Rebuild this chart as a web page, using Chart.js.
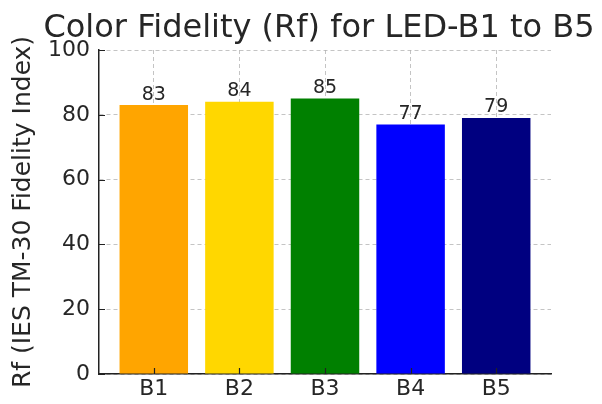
<!DOCTYPE html>
<html>
<head>
<meta charset="utf-8">
<script src="https://cdn.jsdelivr.net/npm/chart.js@4"></script>
<style>
  html, body { margin: 0; padding: 0; background: #fff; }
  #wrap { width: 602px; height: 404px; }
</style>
</head>
<body>
<div id="wrap"><canvas id="rfChart" width="602" height="404"></canvas></div>
<script>
// data
const categories = ['B1', 'B2', 'B3', 'B4', 'B5'];
const rfValues = [83, 84, 85, 77, 79];
const barColors = ['#FFA500', '#FFD700', '#008000', '#0000FF', '#000080'];
const yTicks = [0, 20, 40, 60, 80, 100];
const chartTitle = 'Color Fidelity (Rf) for LED-B1 to B5';

const textColor = '#262626';
const gridColor = 'rgba(176,176,176,0.75)';

// title (wider than the plot, so drawn by hand), inward ticks, value labels
const extras = {
  id: 'extras',
  afterDraw(chart) {
    const ctx = chart.ctx;
    const xs = chart.scales.x, ys = chart.scales.y;
    const area = chart.chartArea;
    ctx.save();
    ctx.strokeStyle = '#222';
    ctx.lineWidth = 1.2;
    ctx.beginPath();
    yTicks.forEach(v => {
      const py = Math.round(ys.getPixelForValue(v)) + 0.5;
      ctx.moveTo(area.left, py);
      ctx.lineTo(area.left + 6, py);
    });
    categories.forEach((c, i) => {
      const px = Math.round(xs.getPixelForValue(i)) + 0.5;
      ctx.moveTo(px, area.bottom);
      ctx.lineTo(px, area.bottom - 6);
    });
    ctx.stroke();

    ctx.fillStyle = textColor;
    ctx.font = '19px "DejaVu Sans"';
    ctx.textAlign = 'center';
    ctx.textBaseline = 'bottom';
    chart.getDatasetMeta(0).data.forEach((bar, i) => {
      ctx.fillText(String(rfValues[i]), bar.x, ys.getPixelForValue(rfValues[i]) - 1);
    });

    ctx.font = '32px "DejaVu Sans"';
    ctx.textBaseline = 'alphabetic';
    ctx.fillText(chartTitle, 319, 37);
    ctx.restore();
  }
};

new Chart(document.getElementById('rfChart').getContext('2d'), {
  type: 'bar',
  data: {
    datasets: [{
      data: categories.map((c, i) => ({ x: i, y: rfValues[i] })),
      backgroundColor: barColors,
      borderWidth: 0,
      barPercentage: 1.0,
      categoryPercentage: 0.8
    }]
  },
  options: {
    responsive: false,
    animation: false,
    layout: { padding: { top: 50, right: 51, left: 0, bottom: 0 } },
    plugins: {
      legend: { display: false },
      tooltip: { enabled: false },
      title: { display: false }
    },
    scales: {
      x: {
        type: 'linear',
        min: -0.64,
        max: 4.64,
        offset: false,
        z: 1,
        afterBuildTicks: s => { s.ticks = categories.map((c, i) => ({ value: i })); },
        afterFit: s => { s.height = 30; },
        ticks: {
          color: textColor,
          font: { family: 'DejaVu Sans', size: 22 },
          padding: 2,
          callback: v => categories[v]
        },
        grid: { color: gridColor, lineWidth: 1, drawTicks: false, offset: false },
        border: { display: true, color: '#222', width: 1.5, dash: [4, 3] }
      },
      y: {
        min: 0,
        max: 100,
        z: 1,
        afterBuildTicks: s => { s.ticks = yTicks.map(v => ({ value: v })); },
        afterFit: s => { s.width = 99; },
        ticks: {
          color: textColor,
          font: { family: 'DejaVu Sans', size: 22 },
          padding: 9
        },
        grid: { color: gridColor, lineWidth: 1, drawTicks: false },
        border: { display: true, color: '#222', width: 1.5, dash: [4, 3] },
        title: {
          display: true,
          text: 'Rf (IES TM-30 Fidelity Index)',
          color: textColor,
          font: { family: 'DejaVu Sans', size: 25 },
          padding: { top: 8, bottom: 0 }
        }
      }
    }
  },
  plugins: [extras]
});
</script>
</body>
</html>
